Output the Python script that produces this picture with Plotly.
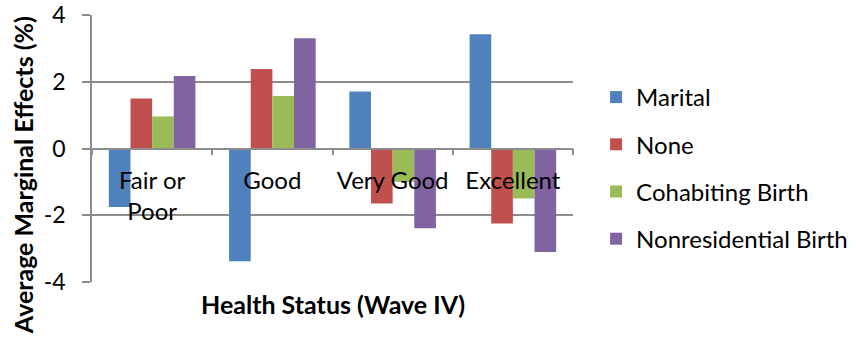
import plotly.graph_objects as go

# Health status categories (x axis)
categories = ["Fair or<br>Poor", "Good", "Very Good", "Excellent"]

# Average marginal effects (%) by birth type
series_names = ["Marital", "None", "Cohabiting Birth", "Nonresidential Birth"]
marital = [-1.75, -3.38, 1.71, 3.42]
none_ = [1.50, 2.38, -1.65, -2.25]
cohabiting = [0.96, 1.57, -1.0, -1.50]
nonresidential = [2.17, 3.30, -2.39, -3.10]

y_ticks = [-4, -2, 0, 2, 4]

colors = ["#4F81BD", "#C0504D", "#9BBB59", "#8064A2"]
values = [marital, none_, cohabiting, nonresidential]

FONT = "Lato"
GRID = "#8C8C8C"

fig = go.Figure()
for name, vals, col in zip(series_names, values, colors):
    fig.add_trace(go.Bar(
        x=categories, y=vals, name=name, legendgroup=name,
        marker=dict(color=col, line=dict(width=0)),
    ))

fig.update_layout(
    width=856, height=341,
    margin=dict(l=92, r=283, t=15, b=59, autoexpand=False),
    paper_bgcolor="white", plot_bgcolor="white",
    barmode="group", bargap=0.28, bargroupgap=0,
    font=dict(family=FONT, color="black"),
    showlegend=True,
    legend=dict(
        x=1.048, xanchor="left", y=0.427, yanchor="middle",
        font=dict(family=FONT, size=24, color="black"),
        tracegroupgap=13, traceorder="grouped",
        bgcolor="rgba(0,0,0,0)",
    ),
    xaxis=dict(
        anchor="free", position=0.5, automargin=False,
        showline=True, linecolor=GRID, linewidth=1.5,
        ticks="outside", tickson="boundaries", ticklen=6,
        tickcolor=GRID, tickwidth=1.5, ticklabelstandoff=11,
        tickangle=0,
        tickfont=dict(family=FONT, size=24, color="black"),
        showgrid=False, zeroline=False,
    ),
    yaxis=dict(
        range=[-4, 4], tickvals=y_ticks, ticktext=[str(v) for v in y_ticks],
        automargin=False,
        showgrid=True, gridcolor=GRID, gridwidth=1.5,
        zeroline=False,
        showline=True, linecolor=GRID, linewidth=1.5,
        ticks="outside", ticklen=8, tickcolor=GRID, tickwidth=1.5,
        ticklabelstandoff=12,
        tickfont=dict(family=FONT, size=23, color="black"),
    ),
)

fig.add_annotation(
    text="<b>Average Marginal Effects (%)</b>", textangle=-90,
    xref="paper", yref="paper", x=-0.1435, y=0.40,
    xanchor="center", yanchor="middle", showarrow=False,
    font=dict(family=FONT, size=25, color="black"),
)

fig.add_annotation(
    text="<b>Health Status (Wave IV)</b>",
    xref="paper", yref="paper", x=0.5, y=-0.082,
    xanchor="center", yanchor="middle", showarrow=False,
    font=dict(family=FONT, size=25, color="black"),
)

fig.write_html("out.html")
